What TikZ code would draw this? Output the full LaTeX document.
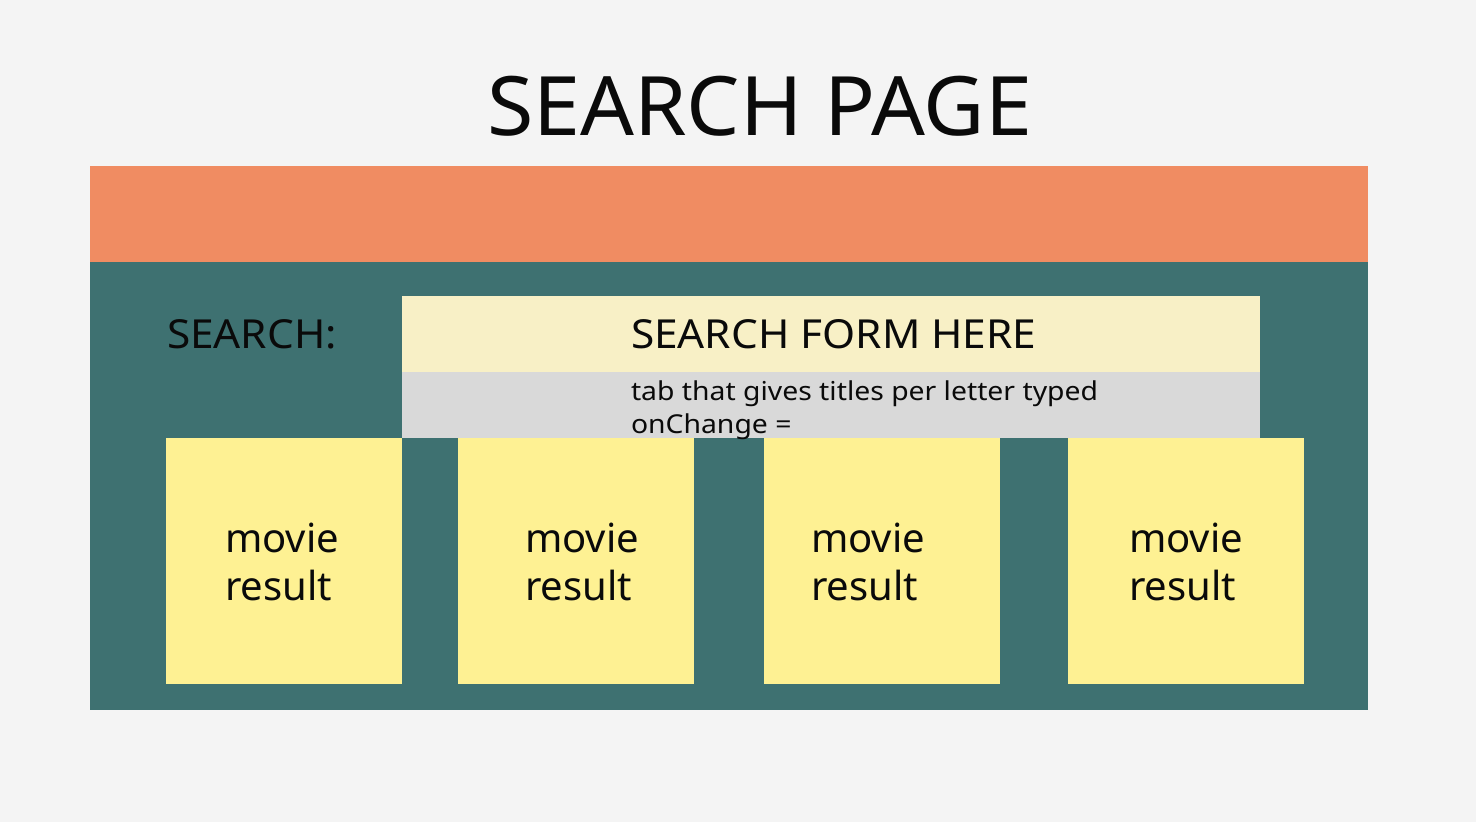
\documentclass[tikz,border=0pt]{standalone}
\usepackage{fontspec}
\setmainfont{Noto Sans}
\newfontfamily\titlefont[FakeStretch=1.03]{Noto Sans}
\newfontfamily\capsfont[FakeStretch=1.06]{Noto Sans}
\newfontfamily\notefont[FakeStretch=1.09]{Noto Sans}
\definecolor{pagebg}{HTML}{F4F4F4}
\definecolor{headerbar}{HTML}{F08C62}
\definecolor{panel}{HTML}{3E7171}
\definecolor{formfill}{HTML}{F8F0C6}
\definecolor{tabfill}{HTML}{D9D9D9}
\definecolor{cardfill}{HTML}{FEF193}
\definecolor{ink}{HTML}{0A0A0A}
\begin{document}
\begin{tikzpicture}[x=1pt,y=-1pt,
  block/.style={draw=none,inner sep=0pt,outer sep=0pt,anchor=north west},
  label/.style={inner sep=0pt,outer sep=0pt,anchor=base west,text=ink},
  caps/.style={label,font=\capsfont\fontsize{40}{48}\selectfont},
  note/.style={label,font=\notefont\fontsize{26}{33}\selectfont},
  cardtext/.style={label,font=\fontsize{40}{48}\selectfont}]
  % page background fixes the bounding box
  \fill[pagebg] (0,0) rectangle (1476,822);
  \useasboundingbox (0,0) rectangle (1476,822);

  % title
  \node[label,font=\titlefont\fontsize{82}{90}\selectfont] (title) at (487,135) {SEARCH PAGE};

  % header bar and main panel
  \node[block,fill=headerbar,minimum width=1278pt,minimum height=96pt] (header) at (90,166) {};
  \node[block,fill=panel,minimum width=1278pt,minimum height=448pt] (panel) at (90,262) {};

  % search row
  \node[caps] (searchlbl) at (167,348) {SEARCH:};
  \node[block,fill=formfill,minimum width=858pt,minimum height=76pt] (form) at (402,296) {};
  \node[block,fill=tabfill,minimum width=858pt,minimum height=66pt] (tab) at (402,372) {};
  \node[caps] (formtxt) at (631,348) {SEARCH FORM HERE};
  \node[note] (tabtxt1) at (631,400) {tab that gives titles per letter typed};
  \node[note] (tabtxt2) at (631,433) {onChange =};

  % result cards
  \foreach \i/\x/\tx in {1/166/225, 2/458/525, 3/764/811, 4/1068/1129} {
    \node[block,fill=cardfill,minimum width=236pt,minimum height=246pt] (card\i) at (\x,438) {};
    \node[cardtext] (cardA\i) at (\tx,552) {movie};
    \node[cardtext] (cardB\i) at (\tx,600) {result};
  }
\end{tikzpicture}
\end{document}
